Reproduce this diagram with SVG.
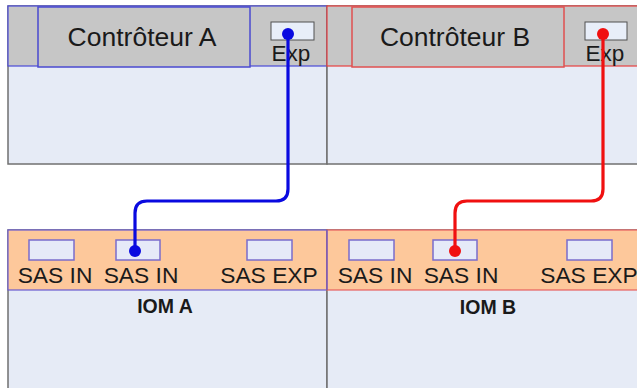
<svg xmlns="http://www.w3.org/2000/svg" width="637" height="388" viewBox="0 0 637 388">
  <style>
    .body { fill: #e6ebf6; stroke: #707070; stroke-width: 1.5; }
    .hdr { fill: #c6c6c6; }
    .iohdr { fill: #fdc89b; }
    .ctrl { fill: #c6c6c6; stroke-width: 1.5; }
    .exp { fill: #e8eef9; stroke: #505050; stroke-width: 1; }
    .port { fill: #e6eaf8; stroke: #7a6ccc; stroke-width: 1.5; }
    .t { font-family: "Liberation Sans", Arial, sans-serif; fill: #1a1a1a; }
    .title { font-size: 26.5px; text-anchor: middle; }
    .explbl { font-size: 22.5px; text-anchor: middle; }
    .sas { font-size: 22.8px; text-anchor: middle; }
    .iom { font-size: 19.5px; font-weight: bold; text-anchor: middle; }
    .wire { fill: none; stroke-width: 3.2; stroke-linejoin: round; }
  </style>
  <rect width="637" height="388" fill="#ffffff"/>

  <!-- Controller A -->
  <g id="controller-a">
    <rect class="body" x="8" y="6" width="319" height="158"/>
    <rect class="hdr" x="8" y="6" width="319" height="60" stroke="#4a4ad8" stroke-width="1.2"/>
    <rect class="ctrl" x="38" y="7" width="212" height="60" stroke="#4a4ad0"/>
    <text class="t title" x="142" y="46">Contrôteur A</text>
    <rect class="exp" x="271" y="22" width="43" height="18"/>
    <text class="t explbl" x="291" y="61">Exp</text>
  </g>

  <!-- Controller B -->
  <g id="controller-b">
    <rect class="body" x="327" y="6" width="320" height="158"/>
    <rect class="hdr" x="327" y="6" width="320" height="60" stroke="#e84040" stroke-width="1.2"/>
    <rect class="ctrl" x="352" y="7" width="212" height="60" stroke="#e05050"/>
    <text class="t title" x="455" y="46">Contrôteur B</text>
    <rect class="exp" x="585" y="22" width="42" height="18"/>
    <text class="t explbl" x="605" y="61">Exp</text>
  </g>

  <!-- IOM A -->
  <g id="iom-a">
    <rect class="body" x="8" y="230" width="319" height="170"/>
    <rect class="iohdr" x="8" y="230" width="319" height="60" stroke="#6a5ad0" stroke-width="1.2"/>
    <rect class="port" x="29" y="240" width="45" height="20"/>
    <rect class="port" x="116" y="240" width="44" height="20"/>
    <rect class="port" x="247" y="240" width="45" height="20"/>
    <text class="t sas" x="55" y="283">SAS IN</text>
    <text class="t sas" x="141" y="283">SAS IN</text>
    <text class="t sas" x="269" y="283">SAS EXP</text>
    <text class="t iom" x="165" y="313">IOM A</text>
  </g>

  <!-- IOM B -->
  <g id="iom-b">
    <rect class="body" x="327" y="230" width="320" height="170"/>
    <rect class="iohdr" x="327" y="230" width="320" height="60" stroke="#e86060" stroke-width="1.2"/>
    <line x1="327" y1="230" x2="327" y2="290" stroke="#5a5ad8" stroke-width="1.2"/>
    <rect class="port" x="349" y="240" width="45" height="20"/>
    <rect class="port" x="433" y="240" width="44" height="20"/>
    <rect class="port" x="567" y="240" width="45" height="20"/>
    <text class="t sas" x="375" y="283">SAS IN</text>
    <text class="t sas" x="461" y="283">SAS IN</text>
    <text class="t sas" x="589" y="283">SAS EXP</text>
    <text class="t iom" x="488" y="314">IOM B</text>
  </g>

  <!-- SAS cables -->
  <g id="connectors">
    <path class="wire" stroke="#0a0ae0" d="M288 34 V189 Q288 201 276 201 H147 Q135 201 135 213 V251"/>
    <circle cx="288" cy="34" r="6" fill="#0a0ae0"/>
    <circle cx="135" cy="251" r="6" fill="#0a0ae0"/>
    <path class="wire" stroke="#f01010" d="M603 34 V189 Q603 201 591 201 H467 Q455 201 455 213 V251"/>
    <circle cx="603" cy="34" r="6" fill="#f01010"/>
    <circle cx="455" cy="251" r="6" fill="#f01010"/>
  </g>
</svg>
